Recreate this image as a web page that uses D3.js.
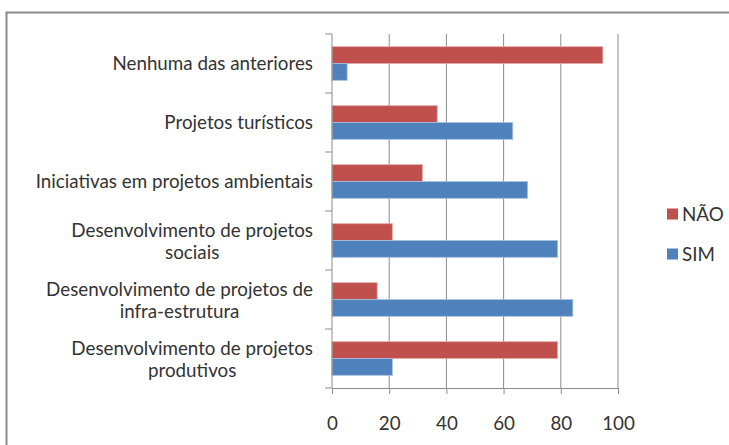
<!DOCTYPE html>
<html>
<head>
<meta charset="utf-8">
<script src="https://cdn.jsdelivr.net/npm/d3@7"></script>
<style>
  body { margin: 0; background: #fff; }
  text { font-family: Lato, "Open Sans", sans-serif; fill: #333333; }
</style>
</head>
<body>
<svg id="chart" width="729" height="445"></svg>
<script>
// Categories, top to bottom; "\n" marks where a label wraps
const categories = [
  "Nenhuma das anteriores",
  "Projetos turísticos",
  "Iniciativas em projetos ambientais",
  "Desenvolvimento de projetos\nsociais",
  "Desenvolvimento de projetos de\ninfra-estrutura",
  "Desenvolvimento de projetos\nprodutivos"
];
const seriesNames = ["NÃO", "SIM"];
const naoValues = [94.7, 36.8, 31.6, 21.1, 15.8, 78.9];
const simValues = [5.3, 63.2, 68.4, 78.9, 84.2, 21.1];
const xTicks = [0, 20, 40, 60, 80, 100];
const colors = { "NÃO": "#C0504D", "SIM": "#4F81BD" };
const outlines = { "NÃO": "#E6A9A7", "SIM": "#A7C0DE" };

const rows = categories.map((c, i) => ({ category: c, "NÃO": naoValues[i], "SIM": simValues[i] }));

const svg = d3.select("#chart");
const plot = { left: 332, right: 618, top: 34, bottom: 388 };
const fontSize = 18.8;
const textColor = "#333333";

const x = d3.scaleLinear().domain([0, 100]).range([plot.left, plot.right]);
const y = d3.scaleBand().domain(categories).range([plot.top, plot.bottom]).padding(0);
const ySeries = d3.scaleBand().domain(seriesNames).range([0, y.bandwidth()])
  .paddingInner(0).paddingOuter(0.755);

// Outer frame
svg.append("rect")
  .attr("x", 6.5).attr("y", 12.5).attr("width", 740).attr("height", 450)
  .attr("fill", "none").attr("stroke", "#8a8a8a").attr("stroke-width", 2);

// Vertical gridlines
svg.append("g")
  .selectAll("line")
  .data(xTicks.slice(1))
  .join("line")
  .attr("x1", d => x(d)).attr("x2", d => x(d))
  .attr("y1", plot.top).attr("y2", plot.bottom)
  .attr("stroke", "#8c8c8c").attr("stroke-width", 1);

// Bars
const groups = svg.append("g")
  .selectAll("g")
  .data(rows)
  .join("g")
  .attr("transform", d => `translate(0,${y(d.category)})`);

groups.selectAll("rect")
  .data(d => seriesNames.map(s => ({ series: s, value: d[s] })))
  .join("rect")
  .attr("x", x(0))
  .attr("y", d => ySeries(d.series))
  .attr("width", d => x(d.value) - x(0))
  .attr("height", ySeries.bandwidth())
  .attr("fill", d => colors[d.series])
  .attr("stroke", d => outlines[d.series])
  .attr("stroke-width", 0.8);

// Value axis (bottom)
const xAxis = svg.append("g")
  .attr("transform", `translate(0,${plot.bottom})`)
  .call(d3.axisBottom(x).tickValues(xTicks).tickSize(6).tickPadding(23).tickSizeOuter(0));
xAxis.select(".domain").attr("stroke", "#8c8c8c");
xAxis.selectAll(".tick line").attr("stroke", "#8c8c8c");
xAxis.selectAll(".tick text")
  .attr("font-size", fontSize)
  .attr("font-family", "Lato, 'Open Sans', sans-serif")
  .attr("fill", textColor);

// Category axis (left): line plus boundary ticks
svg.append("line")
  .attr("x1", plot.left).attr("x2", plot.left)
  .attr("y1", plot.top).attr("y2", plot.bottom)
  .attr("stroke", "#8c8c8c");
const boundaries = categories.map(c => y(c)).concat([plot.bottom]);
svg.append("g")
  .selectAll("line")
  .data(boundaries)
  .join("line")
  .attr("x1", plot.left - 7).attr("x2", plot.left)
  .attr("y1", d => d).attr("y2", d => d)
  .attr("stroke", "#8c8c8c");

// Category labels: the block is right aligned, wrapped lines are centred within it
const lineH = 22;
const labelRight = 313;
svg.append("g")
  .selectAll("text")
  .data(categories)
  .join("text")
  .attr("font-size", fontSize)
  .each(function (c) {
    const lines = c.split("\n");
    const cy = y(c) + y.bandwidth() / 2 + (lines.length > 1 ? 1 : 0);
    const t = d3.select(this);
    const spans = lines.map((ln, i) =>
      t.append("tspan")
        .attr("y", cy + (i - (lines.length - 1) / 2) * lineH)
        .attr("dy", "0.35em")
        .text(ln));
    const widest = d3.max(spans, s => s.node().getComputedTextLength());
    t.attr("text-anchor", "middle");
    spans.forEach(s => s.attr("x", labelRight - widest / 2));
  });

// Legend
const legend = svg.append("g")
  .selectAll("g")
  .data(seriesNames)
  .join("g")
  .attr("transform", (d, i) => `translate(667,${214 + i * 40})`);
legend.append("rect")
  .attr("x", 0).attr("y", -5.5).attr("width", 11).attr("height", 11)
  .attr("fill", d => colors[d]);
legend.append("text")
  .attr("x", 15).attr("dy", "0.35em")
  .attr("font-size", fontSize)
  .text(d => d);
</script>
</body>
</html>
